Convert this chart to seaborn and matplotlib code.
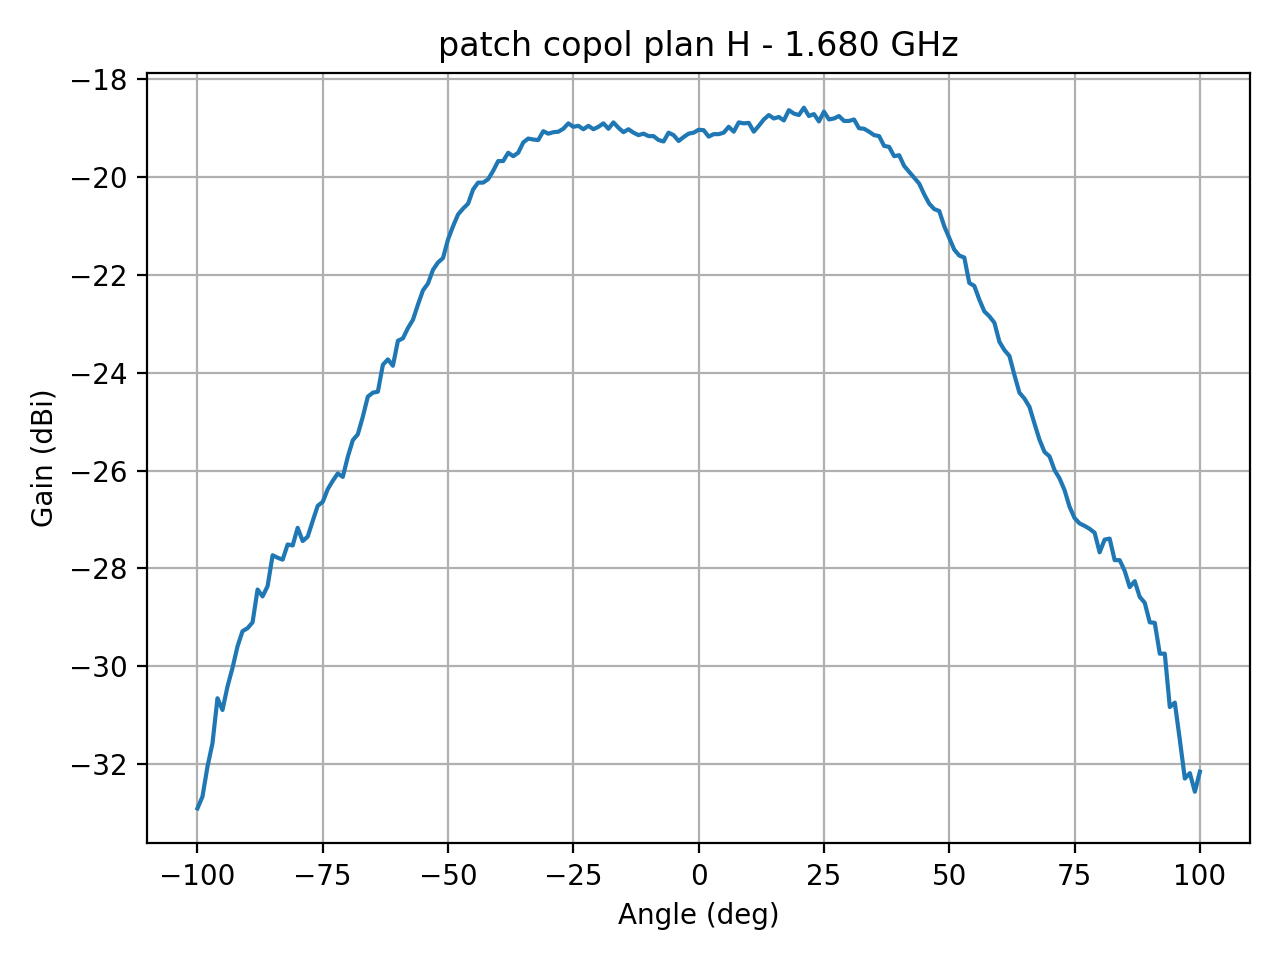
import numpy as np
import matplotlib
matplotlib.use("Agg")
import matplotlib.pyplot as plt
import seaborn as sns

# measured gain, 1 deg steps from -100 to +100
angles = np.arange(-100, 101)

gain_left_low = [-32.90, -32.66, -32.05, -31.57, -30.65, -30.89, -30.41, -30.03, -29.59,
                 -29.28, -29.22, -29.10, -28.43, -28.57, -28.36, -27.73, -27.78, -27.82,
                 -27.51, -27.53, -27.17, -27.44, -27.35, -27.03, -26.72, -26.64, -26.38]
gain_left_high = [-26.21, -26.06, -26.13, -25.72, -25.38, -25.26, -24.90, -24.49, -24.41,
                  -24.39, -23.84, -23.73, -23.86, -23.35, -23.30, -23.09, -22.92, -22.61,
                  -22.32, -22.18, -21.90, -21.75, -21.66, -21.28, -21.01, -20.77]
gain_top_left = [-20.65, -20.55, -20.26, -20.12, -20.12, -20.05, -19.88, -19.68, -19.68,
                 -19.51, -19.58, -19.51, -19.30, -19.22, -19.24, -19.25, -19.07, -19.12,
                 -19.09, -19.08, -19.02, -18.91, -18.98, -18.96, -19.03, -18.96, -19.03,
                 -18.98, -18.91, -19.02, -18.89, -19.00, -19.09, -19.03, -19.10, -19.15,
                 -19.12, -19.17, -19.17, -19.25, -19.28, -19.10, -19.15, -19.27, -19.19,
                 -19.12, -19.10, -19.04]
gain_top_right = [-19.05, -19.18, -19.13, -19.13, -19.10, -18.98, -19.08, -18.89, -18.91,
                  -18.90, -19.08, -18.96, -18.83, -18.74, -18.81, -18.78, -18.85, -18.64,
                  -18.71, -18.74, -18.59, -18.76, -18.72, -18.87, -18.67, -18.83, -18.81,
                  -18.76, -18.86, -18.86, -18.83, -19.01, -19.02, -19.08, -19.15, -19.17,
                  -19.37, -19.39, -19.58, -19.56, -19.78, -19.90, -20.02, -20.14, -20.36]
gain_right_high = [-20.55, -20.66, -20.70, -21.01, -21.25, -21.49, -21.61, -21.65, -22.17,
                   -22.23, -22.51, -22.75, -22.85, -22.98, -23.37, -23.54, -23.66, -24.05,
                   -24.41, -24.53, -24.70, -25.04, -25.37, -25.62, -25.71, -25.99, -26.16,
                   -26.40, -26.74, -26.97]
gain_right_low = [-27.08, -27.13, -27.19, -27.27, -27.67, -27.41, -27.39, -27.83, -27.83,
                  -28.05, -28.38, -28.26, -28.58, -28.70, -29.10, -29.11, -29.74, -29.74,
                  -30.83, -30.74, -31.50, -32.29, -32.18, -32.56, -32.15]

gain = np.array(gain_left_low + gain_left_high + gain_top_left
                + gain_top_right + gain_right_high + gain_right_low)
assert len(gain) == len(angles)

fig, ax = plt.subplots(figsize=(6.4, 4.8), dpi=200)
sns.lineplot(x=angles, y=gain, ax=ax, color="#1f77b4", linewidth=1.5)
ax.grid(True)
ax.set_title("patch copol plan H - 1.680 GHz")
ax.set_xlabel("Angle (deg)")
ax.set_ylabel("Gain (dBi)")
plt.tight_layout()
plt.savefig("out.png", dpi=200)
